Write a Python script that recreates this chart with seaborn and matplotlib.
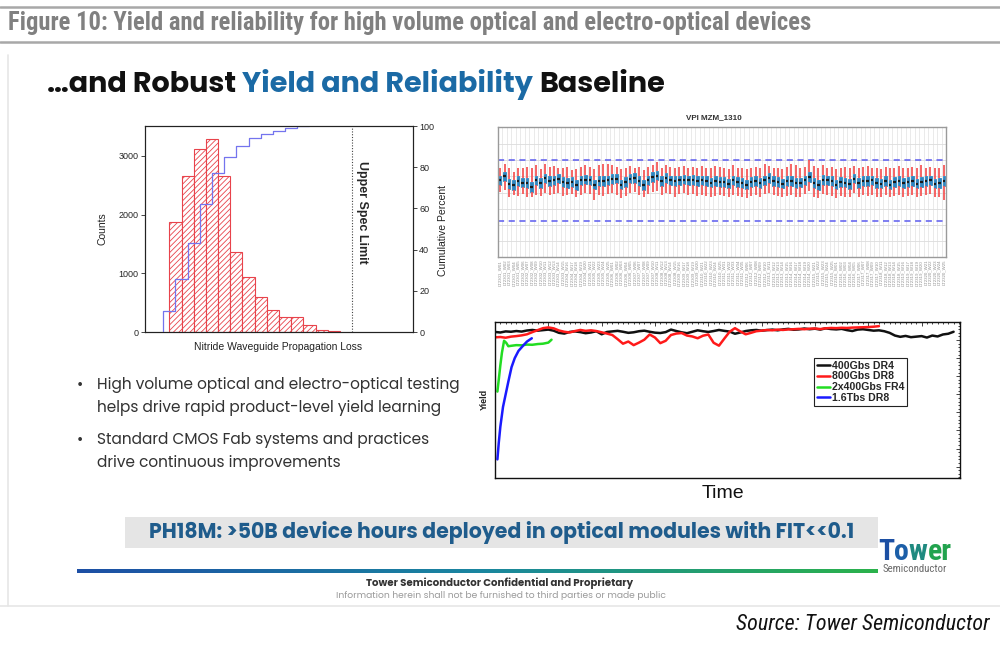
import numpy as np
import pandas as pd
import matplotlib
matplotlib.use("Agg")
import matplotlib.pyplot as plt
import seaborn as sns
from matplotlib import font_manager as fm
from matplotlib.lines import Line2D
from matplotlib.patches import Rectangle
from matplotlib.colors import LinearSegmentedColormap
from matplotlib.ticker import AutoMinorLocator, MultipleLocator, NullFormatter

# ---------------- data ----------------
hist_counts = [1870, 2660, 3110, 3290, 2650, 1355, 930, 590, 370, 255, 260, 115, 40, 20]
cum_x = [-0.5, -0.5, 0.5, 1.5, 2.5, 3.5, 4.5, 5.5, 6.5, 7.5, 8.5, 9.5, 10.5, 11.5]
cum_pct = [0.0, 10.2, 25.6, 43.0, 62.0, 77.0, 85.0, 90.5, 94.0, 96.3, 97.6, 98.8, 99.8, 99.9]
spec_limit = 15.0

vpi_med = [4.75,5.00,4.55,4.45,4.70,4.60,4.60,4.35,4.75,4.60,4.90,4.70,4.75,4.85,4.65,4.60,4.65,4.45,4.75,4.80,
           4.75,4.50,4.70,4.70,4.75,4.85,4.85,4.50,4.65,4.85,4.90,4.70,4.45,4.75,4.95,5.05,4.70,4.90,4.75,4.70,
           4.75,4.80,4.75,4.80,4.70,4.75,4.70,4.60,4.70,4.65,4.65,4.55,4.75,4.65,4.60,4.50,4.65,4.70,4.60,4.75,
           4.90,4.70,4.65,4.55,4.70,4.70,4.60,4.60,4.75,4.95,4.60,4.45,4.80,4.75,4.70,4.50,4.65,4.60,4.55,4.85,
           4.60,4.70,4.70,4.75,4.60,4.55,4.70,4.50,4.65,4.70,4.60,4.65,4.70,4.55,4.65,4.70,4.75,4.55,4.60,4.70]
vpi_q1 = [4.45,4.72,4.23,4.18,4.40,4.32,4.30,4.05,4.47,4.30,4.62,4.40,4.45,4.57,4.35,4.30,4.37,4.15,4.45,4.52,
          4.45,4.20,4.42,4.40,4.47,4.55,4.57,4.20,4.35,4.57,4.60,4.42,4.15,4.45,4.67,4.75,4.40,4.62,4.45,4.42,
          4.45,4.52,4.45,4.50,4.42,4.45,4.40,4.32,4.40,4.37,4.35,4.27,4.45,4.37,4.30,4.22,4.35,4.42,4.30,4.47,
          4.60,4.42,4.35,4.27,4.40,4.42,4.30,4.32,4.45,4.65,4.30,4.17,4.50,4.47,4.40,4.22,4.35,4.32,4.25,4.57,
          4.30,4.42,4.40,4.47,4.30,4.27,4.40,4.22,4.35,4.42,4.30,4.37,4.40,4.27,4.35,4.42,4.45,4.27,4.30,4.40]
vpi_q3 = [5.05,5.30,4.85,4.75,5.00,4.90,4.88,4.65,5.05,4.90,5.18,5.00,5.05,5.15,4.95,4.90,4.95,4.75,5.05,5.10,
          5.05,4.80,5.00,5.00,5.05,5.13,5.15,4.80,4.95,5.15,5.20,5.00,4.75,5.05,5.25,5.33,5.00,5.20,5.05,5.00,
          5.05,5.10,5.05,5.08,5.00,5.05,5.00,4.90,5.00,4.95,4.95,4.85,5.05,4.95,4.90,4.80,4.95,5.00,4.90,5.05,
          5.20,5.00,4.95,4.85,5.00,5.00,4.90,4.88,5.05,5.25,4.90,4.75,5.10,5.05,5.00,4.80,4.95,4.90,4.85,5.15,
          4.90,5.00,5.00,5.05,4.90,4.85,5.00,4.80,4.95,5.00,4.90,4.95,5.00,4.85,4.95,5.00,5.05,4.85,4.90,5.00]
vpi_hi = [5.55,5.80,5.55,5.30,5.50,5.55,5.60,5.50,5.70,5.45,5.75,5.60,5.65,5.55,5.50,5.60,5.40,5.45,5.60,5.70,
          5.60,5.45,5.70,5.80,5.75,5.70,5.60,5.45,5.50,5.65,5.55,5.60,5.40,5.60,5.70,5.90,5.55,5.70,5.60,5.55,
          5.60,5.65,5.55,5.60,5.50,5.65,5.55,5.50,5.65,5.60,5.55,5.45,5.70,5.55,5.50,5.45,5.55,5.60,5.50,5.75,
          5.65,5.55,5.50,5.45,5.60,5.80,5.70,5.55,5.60,6.00,5.65,5.50,5.70,5.55,5.60,5.45,5.55,5.60,5.50,5.65,
          5.55,5.60,5.65,5.55,5.50,5.45,5.60,5.50,5.55,5.65,5.50,5.55,5.60,5.50,5.70,5.55,5.60,5.50,5.55,5.70]
vpi_lo = [4.05,4.15,3.75,3.85,3.80,3.90,3.75,3.70,3.85,3.80,4.00,3.85,3.90,3.95,3.80,3.85,3.90,3.75,3.85,3.95,
          3.90,3.55,3.85,3.80,3.90,4.00,3.85,3.65,3.80,3.95,4.05,3.85,3.70,3.90,4.05,4.10,3.85,4.00,3.90,3.75,
          3.90,3.95,3.85,3.90,3.80,3.85,3.80,3.75,3.80,3.85,3.80,3.70,3.85,3.80,3.70,3.65,3.80,3.85,3.75,3.90,
          4.00,3.85,3.80,3.70,3.80,3.85,3.75,3.70,3.90,4.10,3.75,3.65,3.90,3.85,3.80,3.65,3.80,3.75,3.70,3.95,
          3.75,3.85,3.80,3.85,3.75,3.70,3.85,3.70,3.80,3.85,3.75,3.80,3.85,3.70,3.80,3.85,3.90,3.70,3.75,3.55]
vpi_limits = [6.0, 2.22]
wafer_labels = [f"LT{2301 + i // 5:04d}_W{i % 25 + 1:02d}" for i in range(len(vpi_med))]

t_black = list(range(87))
y_black = [94.5,94.2,94.8,94.6,95.0,94.7,95.3,95.6,95.2,95.5,
           95.8,95.2,94.0,93.6,94.5,94.8,94.4,93.8,94.2,94.9,
           93.2,94.5,94.8,95.1,94.6,94.0,94.3,94.9,95.2,94.6,
           94.1,93.9,94.4,95.8,95.0,94.3,93.8,94.6,95.4,94.9,
           94.5,95.0,95.6,95.1,94.7,93.5,94.2,95.0,95.4,95.6,
           95.2,95.5,95.8,95.4,95.9,96.2,95.7,95.9,96.4,96.0,
           96.3,95.8,96.5,96.1,95.9,96.2,95.5,95.0,95.8,96.0,
           95.6,95.2,95.4,94.9,94.0,92.5,91.8,92.3,91.6,91.9,
           92.2,91.4,92.5,92.0,93.1,93.5,94.6]
t_red = list(range(73))
y_red = [91.5,91.7,91.3,91.9,92.2,92.6,93.2,94.4,95.5,96.6,
         97.0,96.5,95.3,94.6,94.2,95.0,95.6,95.1,95.4,95.0,
         94.3,93.6,92.8,90.5,88.0,89.2,87.2,88.6,90.2,93.1,
         91.4,88.3,89.6,92.8,93.6,93.9,92.5,92.0,91.0,92.4,
         93.1,88.5,86.9,90.8,94.6,96.6,94.8,93.2,94.0,94.9,
         95.2,95.6,95.4,95.8,95.6,95.9,96.0,96.2,96.0,96.3,
         96.4,96.1,96.5,96.7,96.6,96.8,96.7,96.9,97.0,97.1,
         97.2,97.4,97.7]
t_green = [0.45, 0.7, 1.0, 1.3, 1.7, 2.1, 2.5, 3.2, 4.0, 5.0, 6.0, 7.0, 8.0, 9.0, 10.0, 10.6]
y_green = [61.5, 68.0, 76.0, 83.0, 89.6, 88.5, 86.6, 86.9, 87.2, 87.1, 87.5, 87.4, 87.8, 88.0, 88.6, 90.2]
t_blue = [0.45, 0.7, 1.0, 1.5, 2.0, 2.5, 3.1, 3.7, 4.4, 5.3, 6.0, 6.9]
y_blue = [24.0, 33.0, 42.0, 53.0, 60.0, 67.0, 75.0, 80.0, 84.0, 87.0, 89.2, 91.0]
series_names = ["400Gbs DR4", "800Gbs DR8", "2x400Gbs FR4", "1.6Tbs DR8"]
series_colors = ["#111111", "#ff1a1a", "#22dd22", "#1a1aff"]

bullets = [["High volume optical and electro-optical testing",
            "helps drive rapid product-level yield learning"],
           ["Standard CMOS Fab systems and practices",
            "drive continuous improvements"]]

# ---------------- fonts ----------------
sns.set_style("white")
names = {f.name for f in fm.fontManager.ttflist}
def pick(*cands):
    for c in cands:
        if c in names:
            return c
    return "DejaVu Sans"
ARIAL = pick("Liberation Sans", "Arimo", "DejaVu Sans")
NARROW = pick("Liberation Sans Narrow", "Roboto Condensed", ARIAL)
GEOM = pick("Poppins", "Lato", "Open Sans", ARIAL)
plt.rcParams["font.family"] = [ARIAL, "DejaVu Sans"]
plt.rcParams["hatch.color"] = "#e8434b"
plt.rcParams["hatch.linewidth"] = 0.6

W, H = 1000, 650
fig = plt.figure(figsize=(10, 6.5), dpi=100)
fig.patch.set_facecolor("white")
renderer = fig.canvas.get_renderer()

def fx(x): return x / W
def fy(y): return 1 - y / H
def rect(l, t, r, b): return [fx(l), fy(b), (r - l) / W, (b - t) / H]
def wpx(t): return t.get_window_extent(renderer=renderer).width
def fit(t, target):
    for _ in range(3):
        t.set_fontsize(t.get_fontsize() * target / wpx(t))
    return t
def ftext(x, y, s, **kw):
    kw.setdefault("va", "center")
    return fig.text(fx(x), fy(y), s, **kw)

def runs(parts, x0, y, target, size, **kw):
    texts = [ftext(x0, y, s, color=c, fontsize=size, ha="left", **kw) for s, c, _ in parts]
    def total():
        a = ftext(0, 0, "x x", fontsize=texts[0].get_fontsize(), **kw)
        b = ftext(0, 0, "xx", fontsize=texts[0].get_fontsize(), **kw)
        sp = wpx(a) - wpx(b)
        a.remove(); b.remove()
        return sp, sum(wpx(t) for t in texts) + sp * sum(1 for p in parts if p[2])
    for _ in range(3):
        sp, tot = total()
        for t in texts:
            t.set_fontsize(t.get_fontsize() * target / tot)
    sp, tot = total()
    x = x0
    for t, p in zip(texts, parts):
        if p[2]:
            x += sp
        t.set_x(fx(x))
        x += wpx(t)
    return texts

# ---------------- page furniture ----------------
for yy in (7, 42):
    fig.add_artist(Line2D([0, 1], [fy(yy), fy(yy)], color="#a8a8a8", lw=1.8,
                          transform=fig.transFigure))
fit(ftext(8, 23, "Figure 10: Yield and reliability for high volume optical and electro-optical devices",
          color="#808080", fontweight="bold", family=[NARROW, "DejaVu Sans"], fontsize=13), 807)
fig.add_artist(Line2D([fx(8), fx(8)], [fy(55), fy(606)], color="#e6e6e6", lw=1.2, transform=fig.transFigure))
fig.add_artist(Line2D([0, 1], [fy(606), fy(606)], color="#e6e6e6", lw=1.2, transform=fig.transFigure))

runs([("\u2026and Robust", "#111111", False), ("Yield and Reliability", "#1b6aa5", True),
      ("Baseline", "#111111", True)], 47, 85, 618, 22,
     fontweight="bold", family=[GEOM, "DejaVu Sans"])

# ---------------- histogram ----------------
RED = "#e8434b"
ax_h = fig.add_axes(rect(145, 126, 413, 332))
df_h = pd.DataFrame({"loss": np.arange(len(hist_counts)) + 0.5, "count": hist_counts})
sns.histplot(data=df_h, x="loss", weights="count", binwidth=1, binrange=(0, len(hist_counts)),
             ax=ax_h, color="white", edgecolor=RED, hatch="//////", linewidth=0.8, alpha=1, fill=True)
ax_h.set_xlim(-2, 20)
ax_h.set_ylim(0, 3510)
ax_h.set_yticks([0, 1000, 2000, 3000])
ax_h.set_xticks([0, 10, 20])
ax_h.xaxis.set_major_formatter(NullFormatter())
ax_h.set_xlabel("")
ax_h.set_ylabel("")
ax_h.axvline(spec_limit, color="#444444", ls=(0, (1, 1.5)), lw=0.8)
ax_h.text(15.8, 2030, "Upper Spec Limit", rotation=270, ha="center", va="center",
          fontsize=9, fontweight="bold")
ax_h.tick_params(direction="out", length=3, width=0.6, labelsize=6.5, pad=1.5)
for s in ax_h.spines.values():
    s.set_visible(True); s.set_color("#222222"); s.set_linewidth(0.8)
ax_c = ax_h.twinx()
sns.lineplot(x=cum_x, y=cum_pct, ax=ax_c, drawstyle="steps-post", color="#7474ee", lw=0.9,
             sort=False, estimator=None)
ax_c.set_ylim(0, 100)
ax_c.set_yticks([0, 20, 40, 60, 80, 100])
ax_c.set_ylabel("")
ax_c.tick_params(direction="out", length=3, width=0.6, labelsize=6.5, pad=1.5)
for s in ax_c.spines.values():
    s.set_visible(True); s.set_color("#222222"); s.set_linewidth(0.8)
ftext(103, 229, "Counts", rotation=90, ha="center", fontsize=7.5, color="#222222")
ftext(443, 230, "Cumulative Percent", rotation=90, ha="center", fontsize=7.5, color="#222222")
ftext(278, 347, "Nitride Waveguide Propagation Loss", ha="center", fontsize=7.5, color="#222222")

# ---------------- box plot ----------------
BOXC = "#2f86c0"
ax_b = fig.add_axes(rect(498, 127, 946, 257))
rows = []
for i, lab in enumerate(wafer_labels):
    for v in (vpi_lo[i], vpi_q1[i], vpi_med[i], vpi_q3[i], vpi_hi[i]):
        rows.append((lab, v))
df_b = pd.DataFrame(rows, columns=["wafer", "vpi"])
sns.boxplot(data=df_b, x="wafer", y="vpi", order=wafer_labels, ax=ax_b, whis=(0, 100),
            width=0.55, color=BOXC, linecolor=BOXC, saturation=1, linewidth=0.6,
            showcaps=False, showfliers=False,
            whiskerprops=dict(color="#f45858", lw=1.3),
            medianprops=dict(color="#1a1a1a", lw=1.6),
            boxprops=dict(facecolor=BOXC, edgecolor=BOXC))
for yv in vpi_limits:
    ax_b.axhline(yv, color="#5b5bef", ls=(0, (4, 3)), lw=1.1, zorder=1)
ax_b.set_xlim(-0.37, len(wafer_labels) - 0.55)
ax_b.set_ylim(0, 8.07)
ax_b.set_yticks(range(1, 8))
ax_b.yaxis.set_major_formatter(NullFormatter())
ax_b.set_xticks(range(len(wafer_labels)))
ax_b.set_xticklabels(wafer_labels, rotation=90, fontsize=3.2, color="#8f8f8f")
ax_b.set_xticks(np.arange(-0.5, len(wafer_labels), 1), minor=True)
ax_b.tick_params(axis="x", which="both", length=0, pad=2)
ax_b.tick_params(axis="y", length=2, color="#aaaaaa", width=0.5)
ax_b.grid(False)
ax_b.grid(which="minor", axis="x", color="#e2e2e2", lw=0.5)
ax_b.grid(which="major", axis="y", color="#dcdcdc", lw=0.6)
ax_b.set_axisbelow(True)
ax_b.set_xlabel("")
ax_b.set_ylabel("")
for s in ax_b.spines.values():
    s.set_visible(True); s.set_color("#9a9a9a"); s.set_linewidth(1.0)
ftext(714, 118, "VPI MZM_1310", ha="center", fontsize=5.8, fontweight="bold", color="#333333")

# ---------------- yield lines ----------------
ax_y = fig.add_axes(rect(495, 322, 960, 478))
for name, xs, ys, c in zip(series_names, [t_black, t_red, t_green, t_blue],
                           [y_black, y_red, y_green, y_blue], series_colors):
    sns.lineplot(x=xs, y=ys, ax=ax_y, color=c, lw=1.8, label=name, sort=False, estimator=None)
ax_y.set_xlim(0, 87.2)
ax_y.set_ylim(13.7, 100)
ax_y.xaxis.set_major_locator(MultipleLocator(10))
ax_y.xaxis.set_minor_locator(AutoMinorLocator(10))
ax_y.yaxis.set_major_locator(MultipleLocator(10))
ax_y.yaxis.set_minor_locator(AutoMinorLocator(5))
ax_y.tick_params(which="both", direction="in", top=True, right=True,
                 labelbottom=False, labelleft=False, width=0.6)
ax_y.tick_params(which="major", length=3)
ax_y.tick_params(which="minor", length=1.5)
ax_y.set_xlabel("")
ax_y.set_ylabel("")
for s in ax_y.spines.values():
    s.set_visible(True); s.set_color("#111111"); s.set_linewidth(1.0)
leg = ax_y.legend(loc="upper left", bbox_to_anchor=((814 - 495) / 465, 1 - (358 - 322) / 156),
                  frameon=True, fancybox=False, edgecolor="#222222", framealpha=1,
                  prop=dict(family=ARIAL, weight="bold", size=7.6), handlelength=1.3,
                  handletextpad=0.15, borderpad=0.25, labelspacing=0.08, borderaxespad=0)
leg.get_frame().set_linewidth(0.8)
for ln in leg.get_lines():
    ln.set_linewidth(1.8)
ftext(484, 399, "Yield", rotation=90, ha="center", fontsize=6.5, fontweight="bold", color="#222222")
ftext(723, 494, "Time", ha="center", fontsize=14, color="#111111")

# ---------------- bullets ----------------
bfam = [GEOM, "DejaVu Sans"]
t0 = fit(ftext(97, 385, bullets[0][0], ha="left", color="#333333", family=bfam, fontsize=11), 363)
bsize = t0.get_fontsize()
for (l1, l2), yy in zip(bullets, (385, 440)):
    ftext(77, yy, "\u2022", ha="left", color="#333333", family=bfam, fontsize=bsize)
    if yy != 385:
        ftext(97, yy, l1, ha="left", color="#333333", family=bfam, fontsize=bsize)
    ftext(97, yy + 23, l2, ha="left", color="#333333", family=bfam, fontsize=bsize)

# ---------------- banner & footer ----------------
fig.add_artist(Rectangle((fx(125), fy(548)), (878 - 125) / W, (548 - 517) / H,
                         transform=fig.transFigure, facecolor="#e5e5e5", edgecolor="none"))
fit(ftext(149, 532, "PH18M: >50B device hours deployed in optical modules with FIT<<0.1",
          ha="left", color="#1f5c8c", fontweight="bold", family=bfam, fontsize=14), 705)

ax_g = fig.add_axes(rect(77, 569, 878, 573))
grad_cmap = LinearSegmentedColormap.from_list("tg", ["#1d4fa5", "#1a86a0", "#2bb24b"])
ax_g.imshow(np.linspace(0, 1, 256)[None, :], cmap=grad_cmap, aspect="auto")
ax_g.axis("off")

runs([("T", "#1c4fa3", False), ("o", "#1c5fa8", False), ("w", "#1f8a80", False),
      ("er", "#22a34e", False)], 878, 552, 74, 20,
     fontweight="heavy", family=[NARROW, "DejaVu Sans"])
fit(ftext(883, 569, "Semiconductor", ha="left", color="#6a6a6a", family=[NARROW, "DejaVu Sans"],
          fontsize=6), 64)

fit(ftext(500, 583, "Tower Semiconductor Confidential and Proprietary", ha="center",
          color="#333333", fontweight="bold", family=bfam, fontsize=6.5), 267)
fit(ftext(501, 595, "Information herein shall not be furnished to third parties or made public",
          ha="center", color="#9a9a9a", family=bfam, fontsize=5.5), 330)
fit(ftext(990, 625, "Source: Tower Semiconductor", ha="right", color="#111111",
          fontstyle="italic", family=[NARROW, "DejaVu Sans"], fontsize=13), 252)

fig.savefig("out.png", dpi=100, facecolor="white")
